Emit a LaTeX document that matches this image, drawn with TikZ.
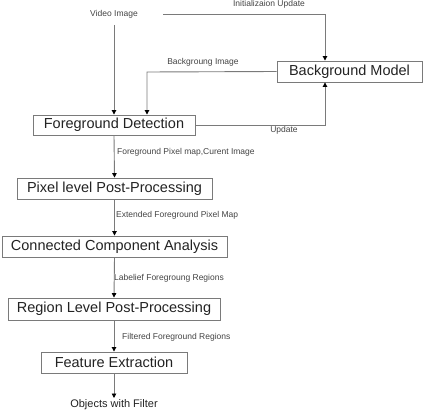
\documentclass[tikz,border=0pt]{standalone}
\usepackage{fontspec}
\setmainfont{Liberation Sans}
\usetikzlibrary{arrows.meta}
\definecolor{linegray}{HTML}{7A7A7A}
\definecolor{txt}{HTML}{222222}
\begin{document}
\begin{tikzpicture}[x=1pt,y=-1pt,
  procbox/.style={draw=linegray,line width=0.9pt,inner sep=0pt,text=txt,font=\fontsize{14.5}{16}\selectfont},
  lbl/.style={inner sep=0pt,text=txt!85,font=\fontsize{8.5}{10}\selectfont},
  flow/.style={draw=linegray,line width=0.9pt,-{Triangle[width=4.5pt,length=4.5pt,color=black]}}]
\useasboundingbox (0,0) rectangle (426,412);
\node[procbox,minimum width=145pt,minimum height=21pt] (bg) at (349.5,71.5) {Background Model};
\node[procbox,minimum width=162pt,minimum height=20pt] (fd) at (114,125) {Foreground Detection};
\node[procbox,minimum width=195pt,minimum height=21pt] (pl) at (114.5,188.5) {Pixel level Post-Processing};
\node[procbox,minimum width=225pt,minimum height=21pt] (cca) at (114.5,246.5) {Connected Component Analysis};
\node[procbox,minimum width=212pt,minimum height=22pt] (rl) at (114,309) {Region Level Post-Processing};
\node[procbox,minimum width=146pt,minimum height=21pt] (fe) at (114,362.5) {Feature Extraction};
\node[lbl] (vid) at (114,14) {Video Image};
\node[lbl] (init) at (269,4) {Initializaion Update};
\node[lbl] (bgi) at (203,62) {Backgroung Image};
\node[lbl] (upd) at (284,130) {Update};
\node[lbl,anchor=west] (l1) at (117,152) {Foreground Pixel map,Curent Image};
\node[lbl,anchor=west] (l2) at (116,215) {Extended Foreground Pixel Map};
\node[lbl,anchor=west] (l3) at (114,278) {Labelief Foregroung Regions};
\node[lbl,anchor=west] (l4) at (122,337) {Filtered Foreground Regions};
\node[inner sep=0pt,text=txt,font=\fontsize{11}{13}\selectfont] (obj) at (114,405) {Objects with Filter};
\coordinate (vidbot) at (114,25);
\coordinate (initstart) at (163,14);
\coordinate (initcorner) at (325,14);
\coordinate (bgicorner) at (147,72);
\coordinate (updcorner) at (325,125);
\coordinate (objtop) at (114,398);
\draw[flow] (vidbot) -- (vidbot |- fd.north);
\draw[flow] (initstart) -- (initcorner) -- (initcorner |- bg.north);
\draw[flow] (bg.west) -- (bgicorner) -- (bgicorner |- fd.north);
\draw[flow] (fd.east) -- (updcorner) -- (updcorner |- bg.south);
\draw[flow] (fd.south) -- (pl.north);
\draw[flow] (pl.south) -- (cca.north);
\draw[flow] (cca.south) -- (rl.north);
\draw[flow] (rl.south) -- (fe.north);
\draw[flow] (fe.south) -- (objtop);
\end{tikzpicture}
\end{document}
